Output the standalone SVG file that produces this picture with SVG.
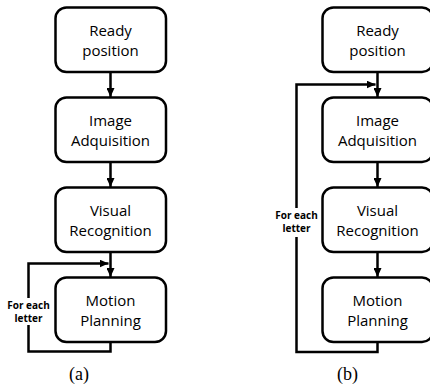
<svg xmlns="http://www.w3.org/2000/svg" width="430" height="388" viewBox="0 0 430 388">
  <defs>
    <marker id="arrow" markerUnits="userSpaceOnUse" markerWidth="9" markerHeight="8" refX="9" refY="4" orient="auto">
      <path d="M0,0 L9,4 L0,8 z" fill="#000"/>
    </marker>
    <style>
      .box { fill: #fff; stroke: #000; stroke-width: 2.5; }
      .lbl { font-family: "Open Sans", "Noto Sans", sans-serif; font-size: 15px; fill: #000; text-anchor: middle; }
      .wire { fill: none; stroke: #000; stroke-width: 2.5; }
      .note { font-family: "Open Sans", "Noto Sans", sans-serif; font-size: 10px; font-weight: bold; fill: #000; text-anchor: middle; }
      .cap { font-family: "Liberation Serif", "Times New Roman", serif; font-size: 18px; fill: #000; text-anchor: middle; }
    </style>
  </defs>
  <rect width="430" height="388" fill="#fff"/>

  <!-- connectors -->
  <g id="connectors">
    <!-- flow (a) -->
    <line class="wire" x1="110.5" y1="72" x2="110.5" y2="97" marker-end="url(#arrow)"/>
    <line class="wire" x1="110.5" y1="162" x2="110.5" y2="187" marker-end="url(#arrow)"/>
    <line class="wire" x1="110.5" y1="252" x2="110.5" y2="277" marker-end="url(#arrow)"/>
    <polyline class="wire" points="28.5,298 28.5,263.5 108.5,263.5" marker-end="url(#arrow)"/>
    <polyline class="wire" points="110.5,342 110.5,351.5 28.5,351.5 28.5,325"/>
    <!-- flow (b) -->
    <line class="wire" x1="377.5" y1="72" x2="377.5" y2="97" marker-end="url(#arrow)"/>
    <line class="wire" x1="377.5" y1="162" x2="377.5" y2="187" marker-end="url(#arrow)"/>
    <line class="wire" x1="377.5" y1="252" x2="377.5" y2="277" marker-end="url(#arrow)"/>
    <polyline class="wire" points="296.5,208 296.5,84.5 375.5,84.5" marker-end="url(#arrow)"/>
    <polyline class="wire" points="377.5,342 377.5,352 296.5,352 296.5,237"/>
    <text class="note" x="28.5" y="309">For each</text>
    <text class="note" x="28.5" y="322">letter</text>
    <text class="note" x="296.5" y="218.5">For each</text>
    <text class="note" x="296.5" y="231.5">letter</text>
  </g>

  <!-- column (a) -->
  <g id="a-ready">
    <rect class="box" x="55.5" y="7.5" width="110.5" height="64.5" rx="11"/>
    <text class="lbl" x="110.5" y="36">Ready</text>
    <text class="lbl" x="110.5" y="55.5">position</text>
  </g>
  <g id="a-image">
    <rect class="box" x="55.5" y="97.5" width="110.5" height="64.5" rx="11"/>
    <text class="lbl" x="110.5" y="126">Image</text>
    <text class="lbl" x="110.5" y="145.5">Adquisition</text>
  </g>
  <g id="a-visual">
    <rect class="box" x="55.5" y="187.5" width="110.5" height="64.5" rx="11"/>
    <text class="lbl" x="110.5" y="216">Visual</text>
    <text class="lbl" x="110.5" y="235.5">Recognition</text>
  </g>
  <g id="a-motion">
    <rect class="box" x="55.5" y="277.5" width="110.5" height="64.5" rx="11"/>
    <text class="lbl" x="110.5" y="306">Motion</text>
    <text class="lbl" x="110.5" y="325.5">Planning</text>
  </g>

  <!-- column (b) -->
  <g id="b-ready">
    <rect class="box" x="322.5" y="7.5" width="110.5" height="64.5" rx="11"/>
    <text class="lbl" x="377.5" y="36">Ready</text>
    <text class="lbl" x="377.5" y="55.5">position</text>
  </g>
  <g id="b-image">
    <rect class="box" x="322.5" y="97.5" width="110.5" height="64.5" rx="11"/>
    <text class="lbl" x="377.5" y="126">Image</text>
    <text class="lbl" x="377.5" y="145.5">Adquisition</text>
  </g>
  <g id="b-visual">
    <rect class="box" x="322.5" y="187.5" width="110.5" height="64.5" rx="11"/>
    <text class="lbl" x="377.5" y="216">Visual</text>
    <text class="lbl" x="377.5" y="235.5">Recognition</text>
  </g>
  <g id="b-motion">
    <rect class="box" x="322.5" y="277.5" width="110.5" height="64.5" rx="11"/>
    <text class="lbl" x="377.5" y="306">Motion</text>
    <text class="lbl" x="377.5" y="325.5">Planning</text>
  </g>

  <!-- captions -->
  <text class="cap" x="79" y="380">(a)</text>
  <text class="cap" x="347.5" y="380">(b)</text>
</svg>
